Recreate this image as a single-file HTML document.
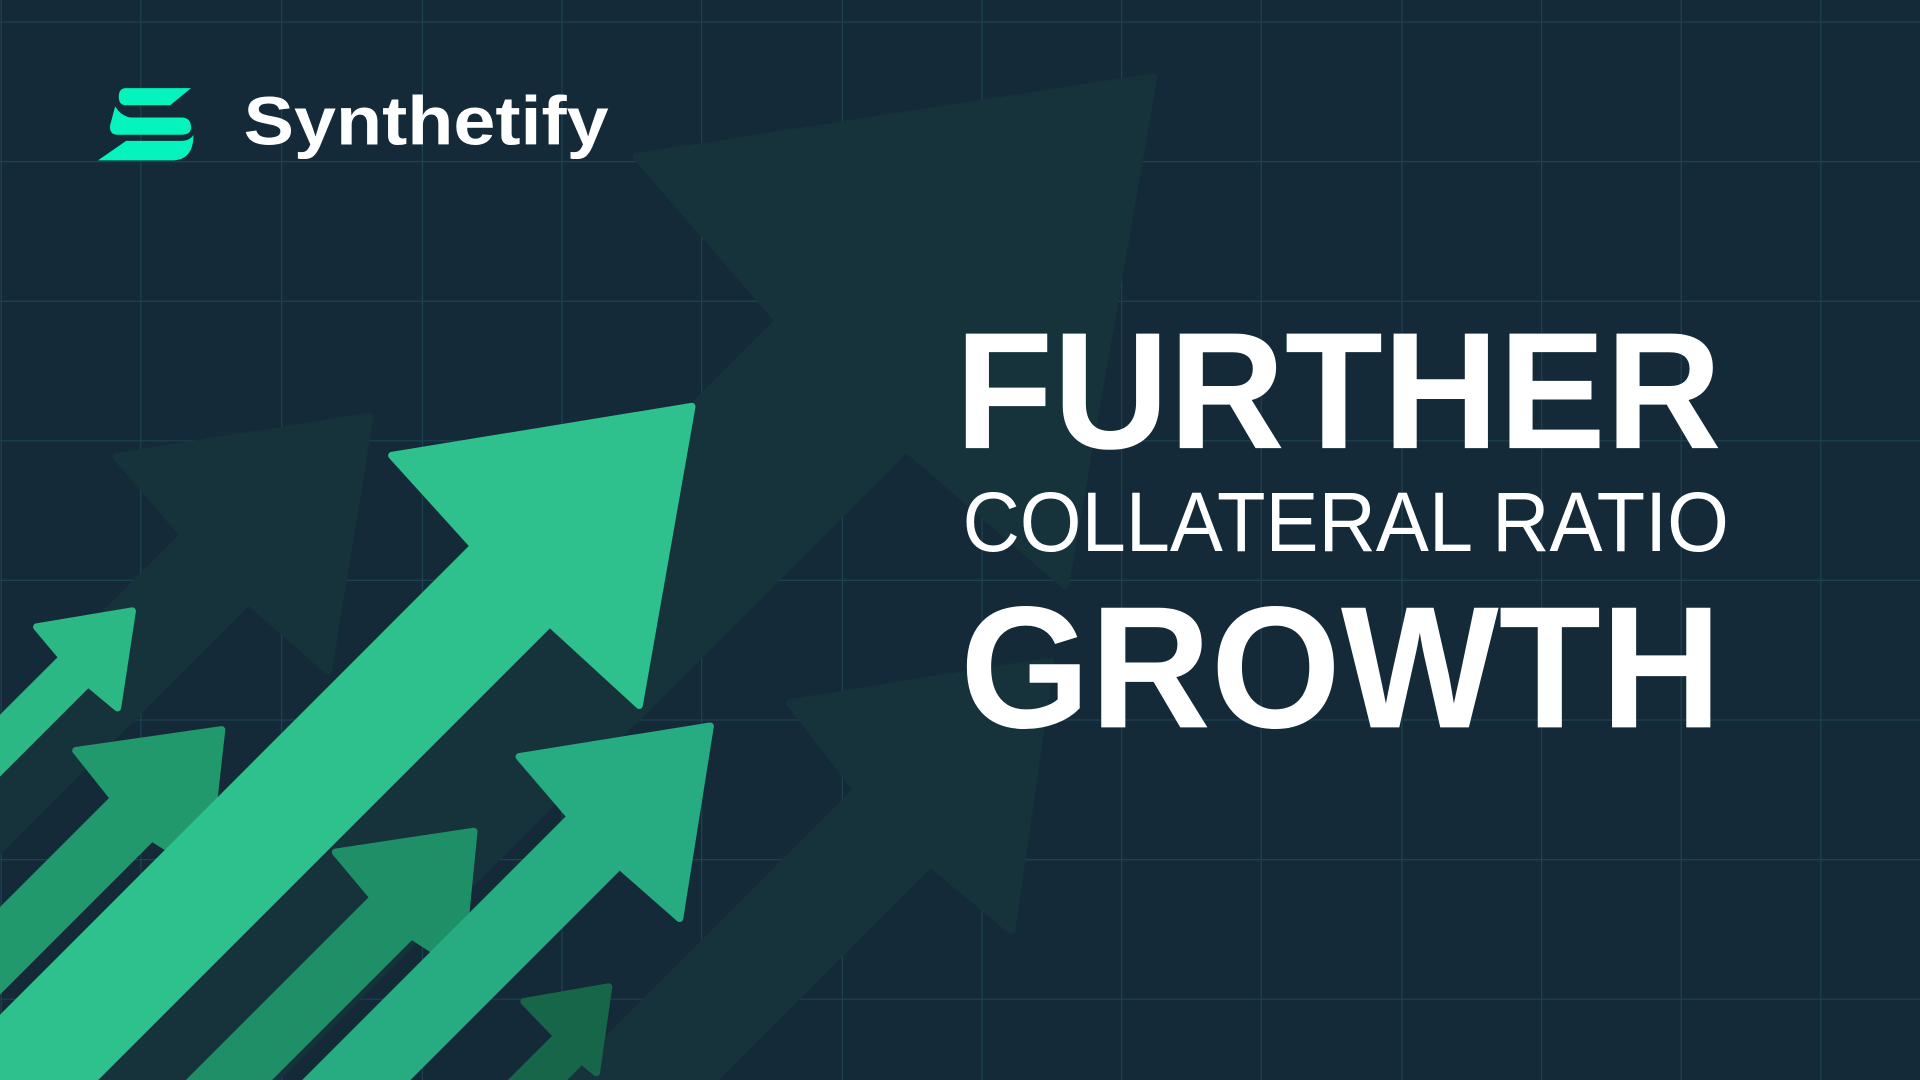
<!DOCTYPE html>
<html><head><meta charset="utf-8"><style>
html,body{margin:0;padding:0;background:#152a39;overflow:hidden;width:1920px;height:1080px}
svg{display:block;position:absolute;left:0;top:0;overflow:hidden}
</style></head><body>
<svg width="1920" height="1080" viewBox="0 0 1568 882" preserveAspectRatio="none" overflow="hidden" xmlns="http://www.w3.org/2000/svg">
<defs><clipPath id="frame"><rect x="0" y="0" width="1568" height="882"/></clipPath></defs>
<rect x="0" y="0" width="1568" height="882" fill="#152a39"/>
<g id="grid" stroke="#1d4250" stroke-width="1"></g>
<g id="arrows" clip-path="url(#frame)"></g>
<g>
<path fill="#05f3bd" d="M103,72 L156,72 L139,86 L103,86 Q97,86 97,79 Q97,72 103,72 Z M94,87 Q100,96 108,96 L148,96 Q156,96 156,104 Q156,110 148,110 L96,110 Q89,110 90,102 Z M103,115 L148,115 Q155,115 158,110 Q158,131 140,131 L80,131 Z"/>
<text x="199" y="118" font-family="Liberation Sans, sans-serif" font-weight="bold" font-size="56" fill="#ffffff" textLength="298" lengthAdjust="spacingAndGlyphs">Synthetify</text>
</g>
<g fill="#ffffff" font-family="Liberation Sans, sans-serif">
<text x="780" y="366" font-weight="bold" font-size="136" textLength="626" lengthAdjust="spacingAndGlyphs">FURTHER</text>
<text x="786" y="450" font-size="69" textLength="626" lengthAdjust="spacingAndGlyphs">COLLATERAL RATIO</text>
<text x="784" y="594" font-weight="bold" font-size="142" textLength="622" lengthAdjust="spacingAndGlyphs">GROWTH</text>
</g>
<script>
var ns="http://www.w3.org/2000/svg";
var gridX=[1,115,230,345,459,573,688,802,916,1030,1145,1259,1373,1487];
var gridY=[18,132,246,360,474,588,702,816];
var g=document.getElementById('grid');
gridX.forEach(function(x){var l=document.createElementNS(ns,'line');


l.setAttribute('x1',x);l.setAttribute('x2',x);l.setAttribute('y1',0);l.setAttribute('y2',882);g.appendChild(l);});
gridY.forEach(function(y){var l=document.createElementNS(ns,'line');


l.setAttribute('x1',0);l.setAttribute('x2',1568);l.setAttribute('y1',y);l.setAttribute('y2',y);g.appendChild(l);});
var arrowDefs=[
 {l:[520,128],t:[942,63],b:[870,478],n1:[636,262],n2:[740,366],c:"#16333c"},
 {l:[645,574],t:[858,540],b:[826,760],n1:[700,645],n2:[760,705],c:"#16333c"},
 {l:[95,373],t:[302,340],b:[268,548],n1:[150,437],n2:[203,491],c:"#16333c"},
 {l:[30,512],t:[108,499],b:[96,578],n1:[51,537],n2:[72,558],c:"#2bb884"},
 {l:[62,613],t:[181,596],b:[168,712],n1:[93,652],n2:[124,684],c:"#21996c"},
 {l:[274,696],t:[387,679],b:[376,790],n1:[305,733],n2:[336,764],c:"#1e8f67"},
 {l:[320,372],t:[565,332],b:[522,576],n1:[387,446],n2:[449,509],c:"#2ec18d"},
 {l:[424,618],t:[580,593],b:[555,750],n1:[466,667],n2:[506,707],c:"#26ac80"},
 {l:[428,818],t:[497,806],b:[487,876],n1:[455,846],n2:[475,866],c:"#17664a"}
];
var ag=document.getElementById('arrows');
arrowDefs.forEach(function(a){
 var far=1200;
 var p1=[a.n1[0]-far,a.n1[1]+far], p2=[a.n2[0]-far,a.n2[1]+far];
 var pts=[a.l,a.t,a.b,a.n2,p2,p1,a.n1].map(function(p){return p[0]+','+p[1];}).join(' ');
 var pg=document.createElementNS(ns,'polygon');
 
 
 pg.setAttribute('points',pts);pg.setAttribute('fill',a.c);
 pg.setAttribute('stroke',a.c);pg.setAttribute('stroke-width','6');pg.setAttribute('stroke-linejoin','round');
 ag.appendChild(pg);
});
</script>
</svg>
</body></html>
